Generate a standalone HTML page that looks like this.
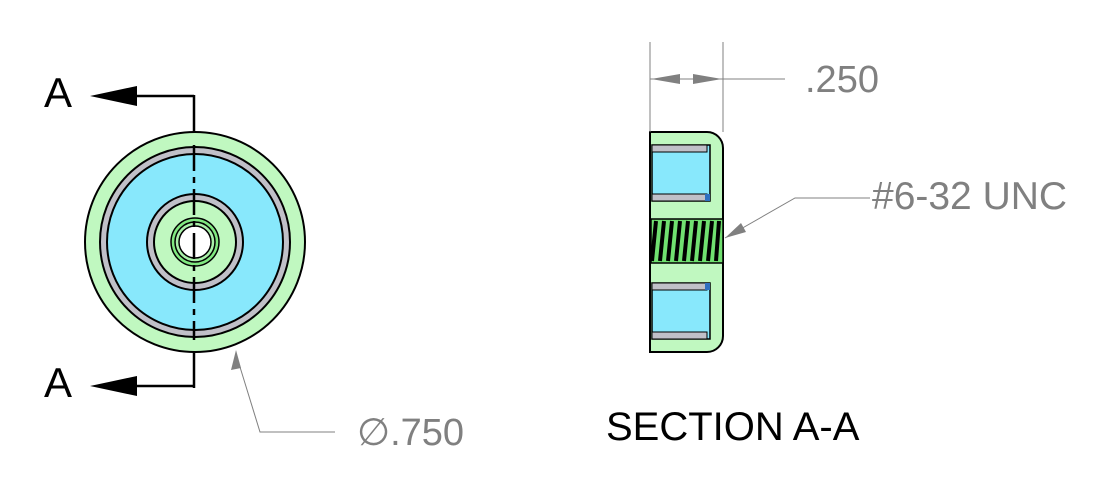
<!DOCTYPE html>
<html><head><meta charset="utf-8"><style>
html,body{margin:0;padding:0;background:#fff;}
svg{display:block;}
text{font-family:"Liberation Sans",sans-serif;}
</style></head><body>
<svg width="1103" height="481" viewBox="0 0 1103 481" xmlns="http://www.w3.org/2000/svg">
<circle cx="195" cy="242" r="110" fill="#c0f8c0" stroke="#000" stroke-width="2"/>
<circle cx="195" cy="242" r="95" fill="#c0c0c8" stroke="#000" stroke-width="2"/>
<circle cx="195" cy="242" r="88" fill="#88e8fc" stroke="#000" stroke-width="2"/>
<circle cx="195" cy="242" r="48" fill="#c0c0c8" stroke="#000" stroke-width="2"/>
<circle cx="195" cy="242" r="41" fill="#c0f8c0" stroke="#000" stroke-width="2"/>
<circle cx="195" cy="242" r="24" fill="#80e880" stroke="#000" stroke-width="1.5"/>
<circle cx="195" cy="242" r="20" fill="#a8f0a8" stroke="#000" stroke-width="1.5"/>
<circle cx="195" cy="242" r="16" fill="#fff" stroke="#000" stroke-width="1.5"/>
<line x1="194" y1="95" x2="194" y2="132" stroke="#000" stroke-width="2.5"/>
<line x1="194" y1="352" x2="194" y2="388" stroke="#000" stroke-width="2.5"/>
<line x1="194" y1="145" x2="194" y2="340" stroke="#000" stroke-width="2.5" stroke-dasharray="26,6,6,6"/>
<line x1="135" y1="96" x2="194" y2="96" stroke="#000" stroke-width="2.5"/>
<polygon points="90,96 137,86 137,106" fill="#000"/>
<line x1="135" y1="386" x2="194" y2="386" stroke="#000" stroke-width="2.5"/>
<polygon points="90,386 137,376 137,396" fill="#000"/>
<text x="44" y="107" font-size="42" fill="#000">A</text>
<text x="44" y="397" font-size="42" fill="#000">A</text>
<polyline points="236,354 260,432 335,432" fill="none" stroke="#808080" stroke-width="1"/>
<polygon points="236,350 231,370 241,368" fill="#808080"/>
<text x="357" y="445" font-size="38" fill="#808080">∅.750</text>
<path d="M650,132 H707 A16,16 0 0 1 723,148 V336 A16,16 0 0 1 707,352 H650 Z" fill="#c0f8c0" stroke="#000" stroke-width="2"/>
<rect x="652" y="145" width="58" height="56" fill="#88e8fc" stroke="#000" stroke-width="1.5"/>
<rect x="652" y="145" width="55" height="7" fill="#c0c0c8" stroke="#000" stroke-width="1"/>
<rect x="652" y="194" width="55" height="7" fill="#c0c0c8" stroke="#000" stroke-width="1"/>
<rect x="705" y="194" width="5" height="7" fill="#3070c0"/>
<rect x="652" y="283" width="58" height="56" fill="#88e8fc" stroke="#000" stroke-width="1.5"/>
<rect x="652" y="283" width="55" height="7" fill="#c0c0c8" stroke="#000" stroke-width="1"/>
<rect x="652" y="332" width="55" height="7" fill="#c0c0c8" stroke="#000" stroke-width="1"/>
<rect x="705" y="283" width="5" height="7" fill="#3070c0"/>
<rect x="651" y="219" width="72" height="44" fill="#70e070" stroke="#000" stroke-width="1.5"/>
<g stroke="#000" stroke-width="4">
<line x1="656" y1="221" x2="652" y2="261"/>
<line x1="664" y1="221" x2="660" y2="261"/>
<line x1="672" y1="221" x2="668" y2="261"/>
<line x1="680" y1="221" x2="676" y2="261"/>
<line x1="688" y1="221" x2="684" y2="261"/>
<line x1="696" y1="221" x2="692" y2="261"/>
<line x1="704" y1="221" x2="700" y2="261"/>
<line x1="712" y1="221" x2="708" y2="261"/>
<line x1="719" y1="221" x2="716" y2="261"/>
</g>
<line x1="650" y1="42" x2="650" y2="132" stroke="#808080" stroke-width="1"/>
<line x1="723" y1="42" x2="723" y2="132" stroke="#808080" stroke-width="1"/>
<line x1="650" y1="79" x2="785" y2="79" stroke="#808080" stroke-width="1"/>
<polygon points="651,79 680,74 680,84" fill="#808080"/>
<polygon points="722,79 693,74 693,84" fill="#808080"/>
<text x="805" y="92" font-size="38" fill="#808080">.250</text>
<polyline points="725,238 795,198 870,198" fill="none" stroke="#808080" stroke-width="1"/>
<polygon points="725,238 741,223 746,232" fill="#808080"/>
<text x="872" y="209" font-size="39" fill="#808080">#6-32 UNC</text>
<text x="606" y="440" font-size="40" fill="#000">SECTION A-A</text>
</svg>
</body></html>
